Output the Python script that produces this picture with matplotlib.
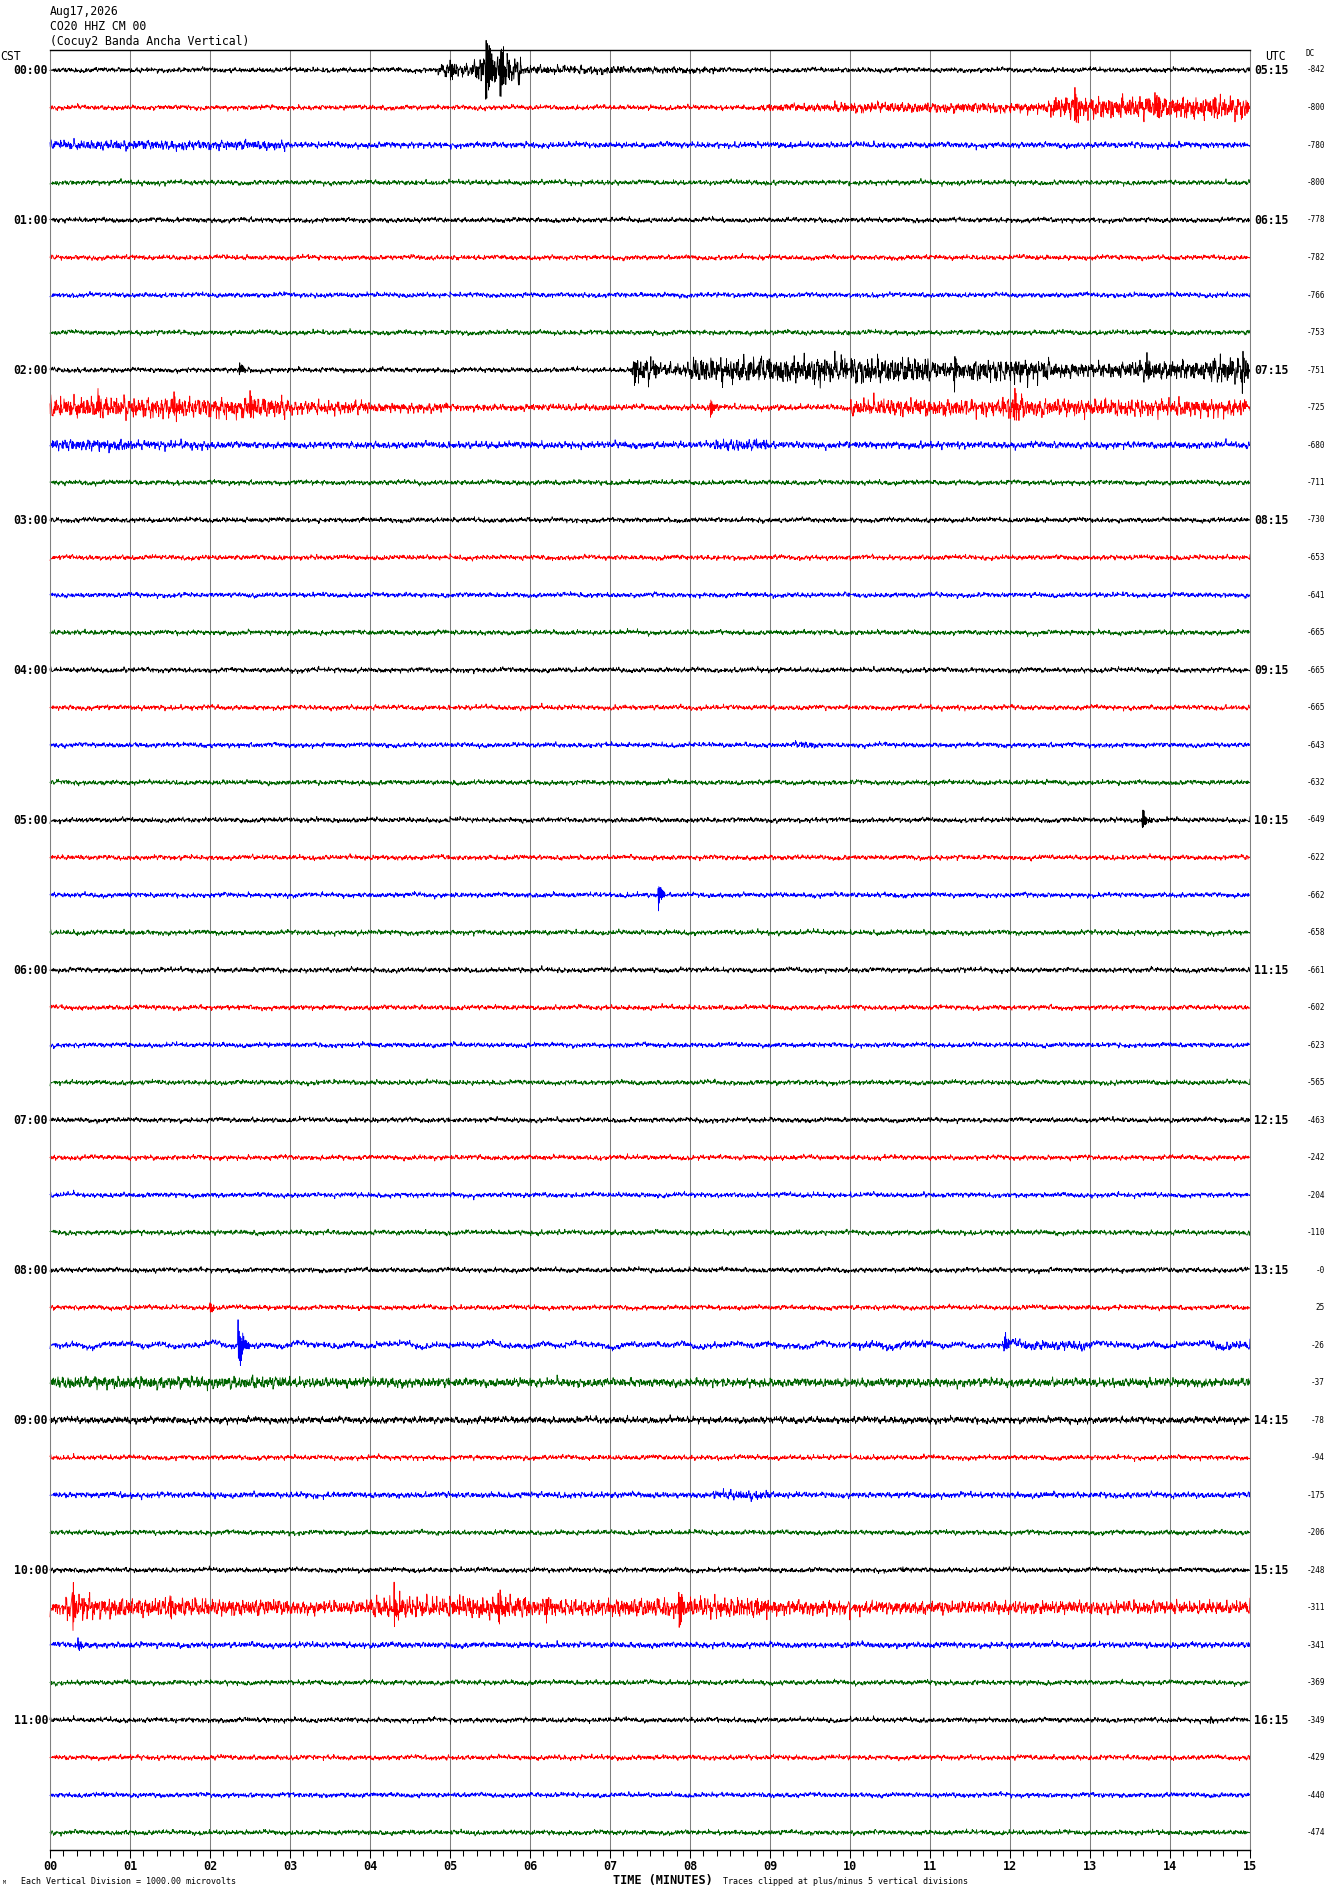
import numpy as np
import matplotlib
matplotlib.use('Agg')
import matplotlib.pyplot as plt

W, H = 1330, 1894
ROWPX = 37.5

header = ['Aug17,2026', 'CO20 HHZ CM 00', '(Cocuy2 Banda Ancha Vertical)']
cst_labels = ['00:00', '01:00', '02:00', '03:00', '04:00', '05:00',
              '06:00', '07:00', '08:00', '09:00', '10:00', '11:00']
utc_labels = ['05:15', '06:15', '07:15', '08:15', '09:15', '10:15',
              '11:15', '12:15', '13:15', '14:15', '15:15', '16:15']
dc_values = ['-842', '-800', '-780', '-800', '-778', '-782', '-766', '-753',
             '-751', '-725', '-680', '-711', '-730', '-653', '-641', '-665',
             '-665', '-665', '-643', '-632', '-649', '-622', '-662', '-658',
             '-661', '-602', '-623', '-565', '-463', '-242', '-204', '-110',
             '-0', '25', '-26', '-37', '-78', '-94', '-175', '-206',
             '-248', '-311', '-341', '-369', '-349', '-429', '-440', '-474']
trace_colors = ['#000000', '#ff0000', '#0000ff', '#006400']
minute_labels = ['%02d' % m for m in range(16)]

# background noise half-amplitude of each line (pixels), read by eye
base_amp = [2.5, 2.5, 3, 2.5, 2.5, 2.5, 2.5, 2.5, 2.5, 3, 3.5, 2.5,
            2.5, 2.5, 2.5, 2.5, 2.5, 2.5, 2.5, 2.5, 2.5, 2.5, 2.5, 2.5,
            2.5, 2.5, 2.5, 2.5, 2.5, 2.5, 2.5, 2.5, 2.5, 2.5, 3, 4.5,
            3.5, 2.5, 3, 2.5, 2.5, 7, 3, 2.5, 2.5, 2.5, 2.5, 2.5]

# noisy stretches: row, start min, end min, half-amplitude (px)
bursts = [
    (0, 4.85, 5.3, 7), (0, 5.3, 5.9, 15), (0, 5.9, 7.2, 4.5), (0, 7.2, 8.4, 3.5),
    (1, 8.9, 9.8, 4), (1, 9.8, 12.5, 5.5), (1, 12.5, 15, 12),
    (2, 0, 3, 5),
    (8, 7.27, 7.6, 13), (8, 7.6, 8.0, 7), (8, 8.0, 11.0, 14),
    (8, 11.0, 11.5, 9), (8, 11.5, 12.5, 12), (8, 12.5, 13.5, 8),
    (8, 13.5, 14.5, 10), (8, 14.5, 15, 14),
    (9, 0, 3, 11), (9, 3, 4, 7), (9, 4, 5, 5), (9, 5, 7, 3.5),
    (9, 10, 15, 9), (9, 11.9, 12.2, 13),
    (10, 0, 1, 6), (10, 1, 2, 4.5), (10, 8.3, 9.0, 6),
    (18, 9.3, 9.6, 4),
    (34, 10, 11, 4), (34, 11.9, 13, 5), (34, 14.5, 15, 4.5),
    (35, 0, 3, 6.5), (35, 3, 5, 5),
    (38, 8.3, 9.0, 5),
    (41, 0.2, 0.5, 14), (41, 0.5, 1, 11), (41, 1, 2, 10), (41, 2, 3, 9),
    (41, 3, 4, 5.5), (41, 4, 5, 11), (41, 5, 6, 12), (41, 6, 7, 9),
    (41, 7, 8, 10), (41, 8, 9, 11), (41, 9, 10, 8), (41, 10, 11, 6),
    (41, 11, 14, 4.5),
]

# sharp arrivals: row, onset min, decay time (min), peak (px)
spikes = [
    (0, 5.44, 0.08, 36), (0, 5.62, 0.06, 24), (0, 5.0, 0.04, 12),
    (1, 12.8, 0.05, 20), (1, 13.8, 0.05, 20), (1, 14.55, 0.03, 14),
    (8, 2.36, 0.04, 9), (8, 7.3, 0.03, 22), (8, 9.6, 0.03, 20),
    (8, 11.3, 0.03, 22), (8, 12.05, 0.03, 18), (8, 13.7, 0.03, 18),
    (8, 14.9, 0.03, 22),
    (9, 0.6, 0.03, 18), (9, 1.55, 0.03, 16), (9, 2.5, 0.03, 16),
    (9, 8.25, 0.04, 12), (9, 12.05, 0.04, 22),
    (20, 13.65, 0.04, 14),
    (22, 7.6, 0.04, 15),
    (33, 2.0, 0.03, 6),
    (34, 2.35, 0.06, 24), (34, 11.92, 0.04, 13),
    (40, 10.65, 0.03, 5),
    (41, 0.28, 0.05, 24), (41, 4.3, 0.05, 22), (41, 5.6, 0.04, 18),
    (41, 7.86, 0.05, 20), (41, 1.5, 0.03, 14), (41, 6.2, 0.03, 14),
    (42, 0.35, 0.04, 7),
    (44, 14.5, 0.03, 4),
]

# texture of the wiggle (cycles per minute) and slow drift
hf_freqs = [9.7, 13.1, 17.3, 23.9, 31.7, 41.3, 55.9, 73.1, 97.3, 127.7, 151.3]
lf_freqs = [0.9, 1.7, 2.9]


def envelope(r, t):
    env = np.full_like(t, base_amp[r])
    for row, t0, t1, a in bursts:
        if row == r:
            m = (t >= t0) & (t <= t1)
            env[m] = np.maximum(env[m], a)
    for row, t0, tau, a in spikes:
        if row == r:
            m = t >= t0
            env[m] = np.maximum(env[m], 0.5 * a * np.exp(-(t[m] - t0) / tau))
    return env


def trace(r, t):
    g = 0.6180339887
    hf = np.zeros_like(t)
    for k, f in enumerate(hf_freqs):
        ph = 2 * np.pi * (((k + 1) * g * (r + 1) * 3.7) % 1.0)
        hf += np.sin(2 * np.pi * f * t + ph)
    hf /= np.sqrt(len(hf_freqs) / 2.0)
    lf = np.zeros_like(t)
    for k, f in enumerate(lf_freqs):
        ph = 2 * np.pi * (((k + 2) * g * (r + 3) * 1.9) % 1.0)
        lf += np.sin(2 * np.pi * f * t + ph)
    lf_amp = 2.0 if r == 34 else 0.7
    y = envelope(r, t) / 2.4 * hf + lf_amp * lf / 2.0
    for row, t0, tau, a in spikes:
        if row == r:
            m = t >= t0
            dt = t[m] - t0
            y[m] -= a * np.exp(-dt / tau) * np.cos(2 * np.pi * dt / 0.012)
    return y / ROWPX


def fx(x):
    return x / W


def fy(y):
    return 1 - y / H


fig = plt.figure(figsize=(W / 100, H / 100), dpi=100)
ax = fig.add_axes([fx(50), fy(1850), 1200 / W, 1800 / H])
ax.set_xlim(0, 15)
ax.set_ylim(47 + 17.5 / ROWPX, -20 / ROWPX)

for m in range(16):
    ax.axvline(m, color='#808080', lw=0.75, zorder=1)

t = np.linspace(0, 15, 3600)
for r in range(48):
    ax.plot(t, r + trace(r, t), color=trace_colors[r % 4], lw=0.6, zorder=2,
            clip_on=False)

ax.set_yticks([])
ax.set_xticks(range(16))
ax.set_xticklabels(minute_labels, family='DejaVu Sans Mono', fontweight='bold', fontsize=8.5)
ax.set_xticks(np.arange(0, 15.01, 1 / 6.0), minor=True)
ax.tick_params(axis='x', which='major', direction='out', length=6, width=0.75, pad=1.5)
ax.tick_params(axis='x', which='minor', direction='out', length=4.5, width=0.75)
ax.spines['top'].set_color('black')
ax.spines['top'].set_linewidth(1.0)
ax.spines['bottom'].set_color('black')
ax.spines['bottom'].set_linewidth(1.0)
ax.spines['left'].set_color('#808080')
ax.spines['right'].set_color('#808080')
ax.spines['left'].set_linewidth(0.75)
ax.spines['right'].set_linewidth(0.75)

mono = 'DejaVu Sans Mono'
for i, s in enumerate(header):
    fig.text(fx(50), fy(12 + 15 * i), s, family=mono, fontsize=8.3, va='center', ha='left')
fig.text(fx(0), fy(57), 'CST', family=mono, fontsize=8.3, va='center', ha='left')
fig.text(fx(1265), fy(56), 'UTC', family=mono, fontsize=8.3, va='center', ha='left')
fig.text(fx(1306), fy(53), 'DC', family=mono, fontsize=5.5, va='center', ha='left')

for i in range(12):
    y = 70 + 4 * i * ROWPX
    fig.text(fx(48), fy(y), cst_labels[i], family=mono, fontweight='bold',
             fontsize=8.3, va='center', ha='right')
    fig.text(fx(1254), fy(y), utc_labels[i], family=mono, fontweight='bold',
             fontsize=8.3, va='center', ha='left')
for r in range(48):
    fig.text(fx(1325), fy(70 + r * ROWPX), dc_values[r], family=mono,
             fontsize=5.5, va='center', ha='right')

fig.text(fx(663), fy(1880), 'TIME (MINUTES)', family=mono, fontweight='bold',
         fontsize=8.6, va='center', ha='center')
fig.text(fx(21), fy(1881), 'Each Vertical Division = 1000.00 microvolts',
         family=mono, fontsize=6, va='center', ha='left')
fig.text(fx(723), fy(1881), 'Traces clipped at plus/minus 5 vertical divisions',
         family=mono, fontsize=6, va='center', ha='left')
fig.text(fx(3), fy(1882), 'M', family=mono, fontsize=3.5, va='center', ha='left')

fig.savefig('out.png', dpi=100, facecolor='white')
